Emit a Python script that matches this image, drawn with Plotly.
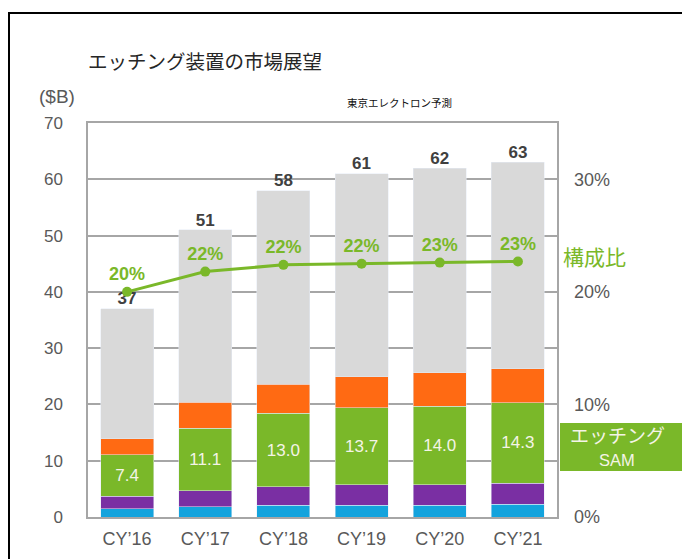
import plotly.graph_objects as go

years = ["CY\u201916", "CY\u201917", "CY\u201918", "CY\u201919", "CY\u201920", "CY\u201921"]
totals = [37, 51, 58, 61, 62, 63]
blue = [1.5, 1.8, 2.1, 2.1, 2.1, 2.3]
purple = [2.2, 2.9, 3.3, 3.6, 3.6, 3.7]
etch_sam = [7.4, 11.1, 13.0, 13.7, 14.0, 14.3]
orange = [2.8, 4.6, 5.2, 5.5, 5.9, 6.0]
share = [20.0, 21.8, 22.4, 22.5, 22.6, 22.7]
share_labels = ["20%", "22%", "22%", "22%", "23%", "23%"]

rest = [t - b - p - e - o for t, b, p, e, o in zip(totals, blue, purple, etch_sam, orange)]

JP = "Noto Sans CJK JP"
NUM = "Liberation Sans, Arial"
GREEN = "#7ab829"

# page has an 8px body margin, so the figure itself starts at (8, 8)
OFF = 8
L, R, T, B = 88 - OFF, 557 - OFF, 123 - OFF, 517 - OFF
W, H = 690, 559


def px(x):
    return (x - OFF - L) / (R - L)


def py(y):
    return (B - (y - OFF)) / (B - T)


fig = go.Figure()
fig.add_trace(go.Bar(x=years, y=blue, marker_color="#13a3dd"))
fig.add_trace(go.Bar(x=years, y=purple, marker_color="#7a2fa3"))
fig.add_trace(go.Bar(x=years, y=etch_sam, marker_color=GREEN,
                     text=[f"{v:.1f}" for v in etch_sam], textposition="inside",
                     insidetextanchor="middle",
                     textfont=dict(color="#f4f4e6", size=17, family=NUM)))
fig.add_trace(go.Bar(x=years, y=orange, marker_color="#ff6a13"))
fig.add_trace(go.Bar(x=years, y=rest, marker_color="#d9d9d9"))

# totals above the bars
fig.add_trace(go.Scatter(x=years, y=totals, mode="text", text=[f"<b>{t}</b>" for t in totals],
                         textposition="top center",
                         textfont=dict(color="#404040", size=17, family=NUM)))

# share line on the right axis
fig.add_trace(go.Scatter(x=years, y=share, yaxis="y2", mode="lines+markers+text",
                         line=dict(color=GREEN, width=3),
                         marker=dict(color=GREEN, size=10),
                         text=[f"<b>{s}</b>" for s in share_labels], textposition="top center",
                         textfont=dict(color=GREEN, size=18, family=NUM)))

fig.update_layout(
    width=W, height=H,
    barmode="stack", bargap=0.32,
    showlegend=False,
    plot_bgcolor="white", paper_bgcolor="white",
    margin=dict(l=L, r=W - R, t=T, b=H - B),
    font=dict(family=NUM, color="#595959"),
    xaxis=dict(showline=True, linecolor="#a6a6a6", linewidth=1.5, mirror=True,
               tickfont=dict(size=18, color="#595959"), ticks="", range=[-0.5, 5.5],
               ticklabelstandoff=5),
    yaxis=dict(range=[0, 70], dtick=10, showgrid=True, gridcolor="#a6a6a6", gridwidth=1.5,
               showline=True, linecolor="#a6a6a6", linewidth=1.5, mirror=True,
               tickfont=dict(size=17, color="#595959"), ticklabelstandoff=20, zeroline=False),
    yaxis2=dict(range=[0, 35], tickvals=[0, 10, 20, 30], ticktext=["0%", "10%", "20%", "30%"],
                overlaying="y", side="right", showgrid=False, zeroline=False,
                tickfont=dict(size=18, color="#595959"), ticklabelstandoff=16),
)

fig.add_annotation(text="エッチング装置の市場展望", xref="paper", yref="paper",
                   x=px(86), y=py(60), xanchor="left", yanchor="middle",
                   showarrow=False, font=dict(family=JP, size=19.5, color="#262626"))
fig.add_annotation(text="($B)", xref="paper", yref="paper",
                   x=px(77), y=py(97), xanchor="right", yanchor="middle",
                   showarrow=False, font=dict(family=NUM, size=19, color="#595959"))
fig.add_annotation(text="東京エレクトロン予測", xref="paper", yref="paper",
                   x=px(399), y=py(102), xanchor="center", yanchor="middle",
                   showarrow=False, font=dict(family=JP, size=10.5, color="#111111"))
fig.add_annotation(text="構成比", xref="paper", yref="paper",
                   x=px(561), y=py(256), xanchor="left", yanchor="middle",
                   showarrow=False, font=dict(family=JP, size=21, color=GREEN))

# green legend box
fig.add_shape(type="rect", xref="paper", yref="paper",
              x0=px(560), x1=px(686), y0=py(471), y1=py(423),
              fillcolor=GREEN, line=dict(width=0))
fig.add_annotation(text="エッチング", xref="paper", yref="paper",
                   x=px(617), y=py(434), xanchor="center", yanchor="middle",
                   showarrow=False, font=dict(family=JP, size=19, color="#f4f4e6"))
fig.add_annotation(text="SAM", xref="paper", yref="paper",
                   x=px(617), y=py(460), xanchor="center", yanchor="middle",
                   showarrow=False, font=dict(family=NUM, size=16.5, color="#f4f4e6"))

# outer frame
fig.add_shape(type="rect", xref="paper", yref="paper",
              x0=px(9), x1=px(720), y0=py(620), y1=py(13),
              fillcolor="rgba(0,0,0,0)", line=dict(color="black", width=2))

fig.write_html("out.html")
